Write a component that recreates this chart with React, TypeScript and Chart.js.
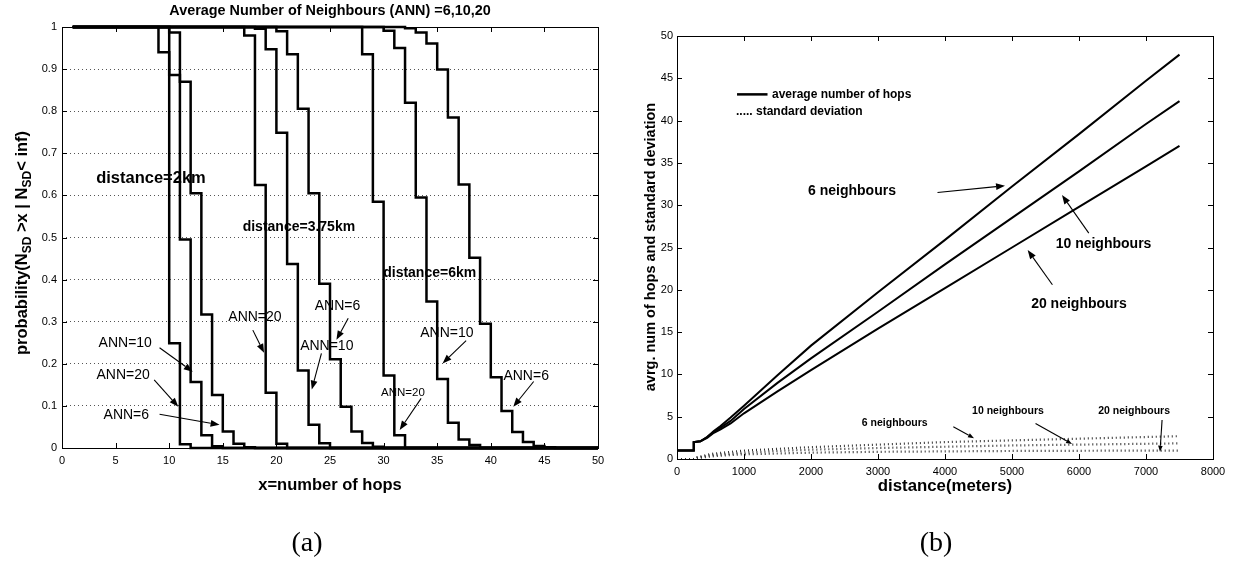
import React, { useEffect, useRef } from "react";
import { Chart, registerables } from "chart.js";

Chart.register(...registerables);

const FONT = '"Liberation Sans", Arial, Helvetica, sans-serif';

// ---------------- (a) data : P(N_SD > x) step curves ----------------
const hopTickValues = [0, 5, 10, 15, 20, 25, 30, 35, 40, 45, 50];
const hopTickLabels = ["0", "5", "10", "15", "20", "25", "30", "35", "40", "45", "50"];
const probTickValues = [0, 0.1, 0.2, 0.3, 0.4, 0.5, 0.6, 0.7, 0.8, 0.9, 1];
const probTickLabels = ["0", "0.1", "0.2", "0.3", "0.4", "0.5", "0.6", "0.7", "0.8", "0.9", "1"];

const hops2km20 = [1, 9, 10, 11, 12, 50];
const prob2km20 = [1, 0.94, 0.249, 0.009, 0, 0];
const hops2km10 = [1, 10, 11, 12, 13, 14, 15, 50];
const prob2km10 = [1, 0.886, 0.495, 0.157, 0.03, 0.004, 0, 0];
const hops2km6 = [1, 10, 11, 12, 13, 14, 15, 16, 17, 18, 50];
const prob2km6 = [1, 0.987, 0.87, 0.605, 0.317, 0.126, 0.039, 0.01, 0.002, 0, 0];

const hops375km20 = [1, 17, 18, 19, 20, 21, 50];
const prob375km20 = [1, 0.98, 0.625, 0.131, 0.01, 0, 0];
const hops375km10 = [1, 18, 19, 20, 21, 22, 23, 24, 25, 50];
const prob375km10 = [1, 0.996, 0.947, 0.749, 0.437, 0.184, 0.055, 0.011, 0, 0];
const hops375km6 = [1, 20, 21, 22, 23, 24, 25, 26, 27, 28, 29, 30, 50];
const prob375km6 = [1, 0.99, 0.935, 0.806, 0.605, 0.39, 0.211, 0.098, 0.039, 0.012, 0.003, 0, 0];

const hops6km20 = [1, 28, 29, 30, 31, 32, 50];
const prob6km20 = [1, 0.935, 0.585, 0.172, 0.03, 0, 0];
const hops6km10 = [1, 30, 31, 32, 33, 34, 35, 36, 37, 38, 39, 50];
const prob6km10 = [1, 0.991, 0.95, 0.82, 0.595, 0.348, 0.164, 0.06, 0.02, 0.007, 0, 0];
const hops6km6 = [1, 32, 33, 34, 35, 36, 37, 38, 39, 40, 41, 42, 43, 44, 45, 46, 50];
const prob6km6 = [1, 0.997, 0.987, 0.961, 0.899, 0.785, 0.626, 0.452, 0.295, 0.168, 0.088, 0.038, 0.014, 0.005, 0.002, 0, 0];

// ---------------- (b) data : average hops and std deviation ----------------
const distTickValues = [0, 1000, 2000, 3000, 4000, 5000, 6000, 7000, 8000];
const distTickLabels = ["0", "1000", "2000", "3000", "4000", "5000", "6000", "7000", "8000"];
const hopsTickValues = [0, 5, 10, 15, 20, 25, 30, 35, 40, 45, 50];
const hopsTickLabels = ["0", "5", "10", "15", "20", "25", "30", "35", "40", "45", "50"];

const distAvg = [0, 250, 250, 350, 450, 550, 650, 800, 1000, 1500, 2000, 3000, 4000, 5000, 6000, 7000, 7500];
const avgHops6 = [1, 1, 2, 2.1, 2.6, 3.3, 3.9, 4.9, 6.3, 9.9, 13.4, 19.7, 25.9, 32.2, 38.4, 44.7, 47.8];
const avgHops10 = [1, 1, 2, 2.1, 2.6, 3.2, 3.7, 4.5, 5.9, 9.0, 11.9, 17.4, 23.0, 28.5, 34.0, 39.6, 42.3];
const avgHops20 = [1, 1, 2, 2.1, 2.5, 3.1, 3.5, 4.2, 5.4, 8.0, 10.5, 15.4, 20.2, 25.0, 29.8, 34.6, 37.0];

const distStd = [0, 250, 300, 400, 500, 750, 1000, 1500, 2000, 3000, 4000, 5000, 6000, 7000, 7500];
const stdHops6 = [0, 0, 0.2, 0.4, 0.6, 0.8, 1.0, 1.2, 1.4, 1.7, 2.0, 2.2, 2.4, 2.6, 2.7];
const stdHops10 = [0, 0, 0.15, 0.3, 0.45, 0.6, 0.75, 0.95, 1.1, 1.3, 1.45, 1.6, 1.7, 1.8, 1.85];
const stdHops20 = [0, 0, 0.1, 0.2, 0.3, 0.45, 0.55, 0.65, 0.75, 0.85, 0.9, 0.95, 0.97, 1.0, 1.0];

// ---------------- annotations ----------------
type Ann = { text: string; x: number; y: number; size: number; bold?: boolean; align?: CanvasTextAlign };
type Arrow = { x1: number; y1: number; x2: number; y2: number; head?: number };

const annotA: Ann[] = [
  { text: "distance=2km", x: 8.3, y: 0.64, size: 16.5, bold: true },
  { text: "distance=3.75km", x: 22.1, y: 0.525, size: 14, bold: true },
  { text: "distance=6km", x: 34.3, y: 0.415, size: 14, bold: true },
  { text: "ANN=10", x: 5.9, y: 0.25, size: 14 },
  { text: "ANN=20", x: 5.7, y: 0.173, size: 14 },
  { text: "ANN=6", x: 6.0, y: 0.078, size: 14 },
  { text: "ANN=20", x: 18.0, y: 0.311, size: 14 },
  { text: "ANN=6", x: 25.7, y: 0.336, size: 14 },
  { text: "ANN=10", x: 24.7, y: 0.241, size: 14 },
  { text: "ANN=20", x: 31.8, y: 0.131, size: 11.5 },
  { text: "ANN=10", x: 35.9, y: 0.274, size: 14 },
  { text: "ANN=6", x: 43.3, y: 0.171, size: 14 },
];
const arrowsA: Arrow[] = [
  { x1: 9.1, y1: 0.238, x2: 12.2, y2: 0.181 },
  { x1: 8.6, y1: 0.162, x2: 10.85, y2: 0.098 },
  { x1: 9.1, y1: 0.08, x2: 14.7, y2: 0.055 },
  { x1: 17.8, y1: 0.28, x2: 18.85, y2: 0.226 },
  { x1: 26.7, y1: 0.308, x2: 25.6, y2: 0.257 },
  { x1: 24.2, y1: 0.225, x2: 23.3, y2: 0.139 },
  { x1: 33.5, y1: 0.118, x2: 31.5, y2: 0.043 },
  { x1: 37.7, y1: 0.255, x2: 35.5, y2: 0.201 },
  { x1: 44.0, y1: 0.158, x2: 42.1, y2: 0.098 },
];

const annotB: Ann[] = [
  { text: "average number of hops", x: 1418, y: 43.1, size: 12, bold: true, align: "left" },
  { text: "..... standard deviation", x: 880, y: 41.1, size: 12, bold: true, align: "left" },
  { text: "6 neighbours", x: 2612, y: 31.7, size: 14, bold: true },
  { text: "10 neighbours", x: 6366, y: 25.4, size: 14, bold: true },
  { text: "20 neighbours", x: 6000, y: 18.3, size: 14, bold: true },
  { text: "6 neighbours", x: 3250, y: 4.2, size: 10.5, bold: true },
  { text: "10 neighbours", x: 4940, y: 5.67, size: 10.5, bold: true },
  { text: "20 neighbours", x: 6823, y: 5.67, size: 10.5, bold: true },
];
const arrowsB: Arrow[] = [
  { x1: 3888, y1: 31.5, x2: 4896, y2: 32.3 },
  { x1: 6146, y1: 26.7, x2: 5746, y2: 31.2 },
  { x1: 5603, y1: 20.6, x2: 5234, y2: 24.7 },
  { x1: 4124, y1: 3.8, x2: 4433, y2: 2.46, head: 6 },
  { x1: 5351, y1: 4.2, x2: 5896, y2: 1.77, head: 6 },
  { x1: 7240, y1: 4.6, x2: 7209, y2: 0.86, head: 6 },
];
const legendLineB = { x1: 896, x2: 1351, y: 43.1 };

// ---------------- helpers ----------------
function pts(xs: number[], ys: number[]) {
  return xs.map((x, i) => ({ x, y: ys[i] }));
}

function drawFrameAndTicks(chart: any, len: number) {
  const ctx = chart.ctx;
  const { left, top, right, bottom } = chart.chartArea;
  const l = Math.round(left), r = Math.round(right), t = Math.round(top), b = Math.round(bottom);
  ctx.save();
  ctx.strokeStyle = "#000";
  ctx.lineWidth = 1;
  ctx.strokeRect(l + 0.5, t + 0.5, r - l, b - t);
  ctx.beginPath();
  for (const tk of chart.scales.x.ticks) {
    const px = Math.round(chart.scales.x.getPixelForValue(tk.value)) + 0.5;
    ctx.moveTo(px, b); ctx.lineTo(px, b - len);
    ctx.moveTo(px, t); ctx.lineTo(px, t + len);
  }
  for (const tk of chart.scales.y.ticks) {
    const py = Math.round(chart.scales.y.getPixelForValue(tk.value)) + 0.5;
    ctx.moveTo(l, py); ctx.lineTo(l + len, py);
    ctx.moveTo(r, py); ctx.lineTo(r - len, py);
  }
  ctx.stroke();
  ctx.restore();
}

function drawAnnots(chart: any, anns: Ann[]) {
  const ctx = chart.ctx;
  ctx.save();
  ctx.fillStyle = "#000";
  ctx.textBaseline = "middle";
  for (const a of anns) {
    ctx.font = `${a.bold ? "bold " : ""}${a.size}px ${FONT}`;
    ctx.textAlign = a.align || "center";
    ctx.fillText(a.text, chart.scales.x.getPixelForValue(a.x), chart.scales.y.getPixelForValue(a.y));
  }
  ctx.restore();
}

function drawArrows(chart: any, arrows: Arrow[]) {
  const ctx = chart.ctx;
  ctx.save();
  ctx.strokeStyle = "#000";
  ctx.fillStyle = "#000";
  ctx.lineWidth = 1.1;
  for (const a of arrows) {
    const x1 = chart.scales.x.getPixelForValue(a.x1), y1 = chart.scales.y.getPixelForValue(a.y1);
    const x2 = chart.scales.x.getPixelForValue(a.x2), y2 = chart.scales.y.getPixelForValue(a.y2);
    const ang = Math.atan2(y2 - y1, x2 - x1);
    const hl = a.head || 9, hw = hl * 0.38;
    const bx = x2 - hl * Math.cos(ang), by = y2 - hl * Math.sin(ang);
    ctx.beginPath();
    ctx.moveTo(x1, y1); ctx.lineTo(bx, by); ctx.stroke();
    ctx.beginPath();
    ctx.moveTo(x2, y2);
    ctx.lineTo(bx + hw * Math.sin(ang), by - hw * Math.cos(ang));
    ctx.lineTo(bx - hw * Math.sin(ang), by + hw * Math.cos(ang));
    ctx.closePath(); ctx.fill();
  }
  ctx.restore();
}

function drawText(ctx: CanvasRenderingContext2D, text: string, x: number, y: number, font: string, rot = 0) {
  ctx.save();
  ctx.translate(x, y);
  ctx.rotate(rot);
  ctx.font = font;
  ctx.fillStyle = "#000";
  ctx.textAlign = "center";
  ctx.textBaseline = "middle";
  ctx.fillText(text, 0, 0);
  ctx.restore();
}

function drawSubscriptTitle(ctx: CanvasRenderingContext2D, cx: number, cy: number, parts: { t: string; sub?: boolean }[], size: number, subSize: number) {
  const main = `bold ${size}px ${FONT}`;
  const sub = `bold ${subSize}px ${FONT}`;
  ctx.save();
  let total = 0;
  for (const p of parts) { ctx.font = p.sub ? sub : main; total += ctx.measureText(p.t).width; }
  ctx.translate(cx, cy);
  ctx.rotate(-Math.PI / 2);
  ctx.fillStyle = "#000";
  ctx.textBaseline = "middle";
  ctx.textAlign = "left";
  let x = -total / 2;
  for (const p of parts) {
    ctx.font = p.sub ? sub : main;
    ctx.fillText(p.t, x, p.sub ? size * 0.32 : 0);
    x += ctx.measureText(p.t).width;
  }
  ctx.restore();
}

const tickFont = { family: FONT, size: 11 };

function stepSet(hops: number[], probs: number[]) {
  return {
    data: pts(hops, probs),
    stepped: "before",
    borderColor: "#000",
    borderWidth: 2.5,
    pointRadius: 0,
    fill: false,
    clip: false,
  };
}

// ---------------- component ----------------
export default function App() {
  const refA = useRef<HTMLCanvasElement>(null);
  const refB = useRef<HTMLCanvasElement>(null);

  useEffect(() => {
    const A_W = 616, B_OFF = 616;

    const plugA = {
      id: "overlayA",
      afterDraw(chart: any) {
        const ctx = chart.ctx;
        drawFrameAndTicks(chart, 5);
        drawArrows(chart, arrowsA);
        drawAnnots(chart, annotA);
        drawText(ctx, "Average Number of Neighbours (ANN) =6,10,20", 330, 11, `bold 14.4px ${FONT}`);
        drawText(ctx, "x=number of hops", 330, 485, `bold 16.5px ${FONT}`);
        drawSubscriptTitle(ctx, 22, 243, [
          { t: "probability(N" }, { t: "SD", sub: true }, { t: " >x | N" }, { t: "SD", sub: true }, { t: "< inf)" },
        ], 16.5, 12);
      },
    };

    const chartA = new Chart(refA.current as HTMLCanvasElement, {
      type: "line",
      data: {
        datasets: [
          stepSet(hops2km20, prob2km20), stepSet(hops2km10, prob2km10), stepSet(hops2km6, prob2km6),
          stepSet(hops375km20, prob375km20), stepSet(hops375km10, prob375km10), stepSet(hops375km6, prob375km6),
          stepSet(hops6km20, prob6km20), stepSet(hops6km10, prob6km10), stepSet(hops6km6, prob6km6),
        ] as any,
      },
      options: {
        responsive: false,
        animation: false,
        events: [],
        layout: { padding: { left: 0, top: 27, right: A_W - 598, bottom: 0 } },
        plugins: { legend: { display: false }, title: { display: false }, tooltip: { enabled: false } },
        scales: {
          x: {
            type: "linear", min: 0, max: 50,
            afterFit: (s: any) => { s.height = 562 - 448; },
            afterBuildTicks: (s: any) => { s.ticks = hopTickValues.map((v) => ({ value: v })); },
            ticks: { callback: (_v: any, i: number) => hopTickLabels[i], font: tickFont, color: "#000", padding: 6, maxRotation: 0, autoSkip: false },
            grid: { display: false, drawTicks: false },
            border: { display: false },
          },
          y: {
            type: "linear", min: 0, max: 1,
            afterFit: (s: any) => { s.width = 62; },
            afterBuildTicks: (s: any) => { s.ticks = probTickValues.map((v) => ({ value: v })); },
            ticks: { callback: (_v: any, i: number) => probTickLabels[i], font: tickFont, color: "#000", padding: 5, autoSkip: false },
            grid: { display: true, color: "#555", lineWidth: 1, drawTicks: false },
            border: { display: false, dash: [1, 3] },
          },
        },
      } as any,
      plugins: [plugA],
    });

    const plugB = {
      id: "overlayB",
      afterDraw(chart: any) {
        const ctx = chart.ctx;
        drawFrameAndTicks(chart, 5);
        ctx.save();
        ctx.strokeStyle = "#000";
        ctx.lineWidth = 2.5;
        ctx.beginPath();
        const ly = chart.scales.y.getPixelForValue(legendLineB.y);
        ctx.moveTo(chart.scales.x.getPixelForValue(legendLineB.x1), ly);
        ctx.lineTo(chart.scales.x.getPixelForValue(legendLineB.x2), ly);
        ctx.stroke();
        ctx.restore();
        drawArrows(chart, arrowsB);
        drawAnnots(chart, annotB);
        drawText(ctx, "distance(meters)", 945 - B_OFF, 486, `bold 16.8px ${FONT}`);
        drawText(ctx, "avrg. num of hops and standard deviation", 651 - B_OFF, 247, `bold 14.5px ${FONT}`, -Math.PI / 2);
      },
    };

    const solid = (ys: number[]) => ({
      data: pts(distAvg, ys), borderColor: "#000", borderWidth: 2, pointRadius: 0, fill: false, tension: 0,
    });
    const dotted = (ys: number[]) => ({
      data: pts(distStd, ys), borderColor: "#333", borderWidth: 2.2, borderDash: [1, 3], pointRadius: 0, fill: false, tension: 0,
    });

    const chartB = new Chart(refB.current as HTMLCanvasElement, {
      type: "line",
      data: {
        datasets: [solid(avgHops6), solid(avgHops10), solid(avgHops20), dotted(stdHops6), dotted(stdHops10), dotted(stdHops20)] as any,
      },
      options: {
        responsive: false,
        animation: false,
        events: [],
        layout: { padding: { left: 0, top: 36, right: 1233 - 1213, bottom: 0 } },
        plugins: { legend: { display: false }, title: { display: false }, tooltip: { enabled: false } },
        scales: {
          x: {
            type: "linear", min: 0, max: 8000,
            afterFit: (s: any) => { s.height = 562 - 459; },
            afterBuildTicks: (s: any) => { s.ticks = distTickValues.map((v) => ({ value: v })); },
            ticks: { callback: (_v: any, i: number) => distTickLabels[i], font: tickFont, color: "#000", padding: 6, maxRotation: 0, autoSkip: false },
            grid: { display: false, drawTicks: false },
            border: { display: false },
          },
          y: {
            type: "linear", min: 0, max: 50,
            afterFit: (s: any) => { s.width = 677 - B_OFF; },
            afterBuildTicks: (s: any) => { s.ticks = hopsTickValues.map((v) => ({ value: v })); },
            ticks: { callback: (_v: any, i: number) => hopsTickLabels[i], font: tickFont, color: "#000", padding: 4, autoSkip: false },
            grid: { display: false, drawTicks: false },
            border: { display: false },
          },
        },
      } as any,
      plugins: [plugB],
    });

    return () => { chartA.destroy(); chartB.destroy(); };
  }, []);

  const capStyle: React.CSSProperties = {
    position: "absolute",
    top: 542,
    transform: "translate(-50%, -50%)",
    fontFamily: '"Liberation Serif", "Times New Roman", serif',
    fontSize: 28,
    lineHeight: 1,
    color: "#000",
    whiteSpace: "nowrap",
  };

  return (
    <div style={{ position: "fixed", left: 0, top: 0, width: 1233, height: 562, background: "#fff", overflow: "hidden" }}>
      <canvas ref={refA} width={616} height={562} style={{ position: "absolute", left: 0, top: 0, width: 616, height: 562 }} />
      <canvas ref={refB} width={617} height={562} style={{ position: "absolute", left: 616, top: 0, width: 617, height: 562 }} />
      <div style={{ ...capStyle, left: 307 }}>(a)</div>
      <div style={{ ...capStyle, left: 936 }}>(b)</div>
    </div>
  );
}
